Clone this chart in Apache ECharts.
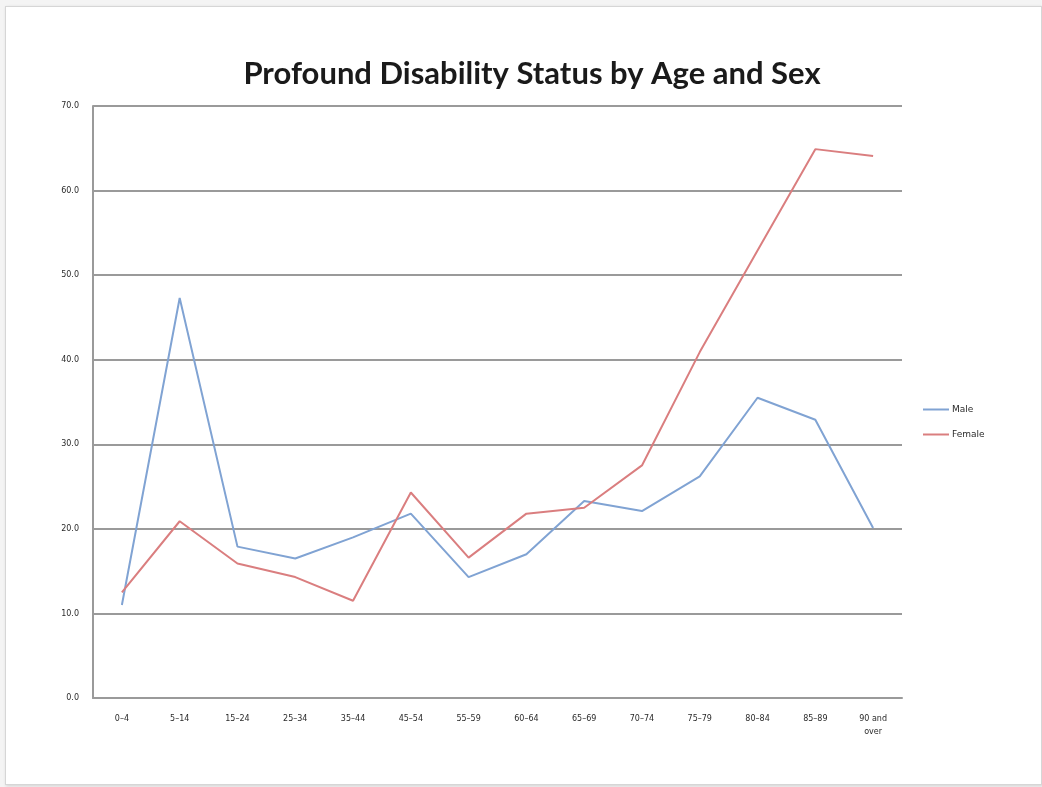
<!DOCTYPE html>
<html>
<head>
<meta charset="utf-8">
<script src="https://cdn.jsdelivr.net/npm/echarts@6/dist/echarts.min.js"></script>
<style>
  html, body { margin: 0; padding: 0; background: #f4f4f4; }
  #frame {
    position: absolute; left: 5px; top: 6px; width: 1035px; height: 777px;
    background: #ffffff; border: 1px solid #d6d6d6;
    box-shadow: 1px 1px 3px rgba(0,0,0,0.15);
  }
  #chart { position: absolute; left: 0; top: 0; width: 1042px; height: 787px; }
</style>
</head>
<body>
<div id="frame"></div>
<div id="chart"></div>
<script>
// Age groups along the x axis
const ageGroups = ['0–4', '5–14', '15–24', '25–34', '35–44', '45–54', '55–59',
  '60–64', '65–69', '70–74', '75–79', '80–84', '85–89', '90 and\nover'];

// Percentage with a profound disability, by sex
const male   = [11.0, 47.3, 17.9, 16.5, 19.0, 21.8, 14.3, 17.0, 23.3, 22.1, 26.2, 35.5, 32.9, 20.1];
const female = [12.5, 20.9, 15.9, 14.3, 11.5, 24.3, 16.6, 21.8, 22.5, 27.5, 40.9, 52.9, 64.9, 64.1];

// Value axis ticks
const yTicks = [0, 10, 20, 30, 40, 50, 60, 70];

const chart = echarts.init(document.getElementById('chart'), null, { renderer: 'canvas' });

const labelFont = { fontFamily: 'DejaVu Sans', fontSize: 8, color: '#2a2a2a' };

chart.setOption({
  backgroundColor: 'transparent',
  animation: false,
  title: {
    text: 'Profound Disability Status by Age and Sex',
    left: 527, top: 53, textAlign: 'center',
    textStyle: { fontFamily: 'Lato', fontWeight: 'bold', fontSize: 31, color: '#1a1a1a' }
  },
  legend: {
    orient: 'vertical',
    left: 918, top: 400,
    itemWidth: 26, itemHeight: 2, itemGap: 16,
    icon: 'rect',
    textStyle: Object.assign({}, labelFont, { fontSize: 9, padding: [0, 0, 0, -2] }),
    data: ['Male', 'Female']
  },
  grid: { left: 93, right: 140, top: 106, bottom: 89 },
  xAxis: {
    type: 'category',
    data: ageGroups,
    boundaryGap: true,
    axisLine: { show: true, lineStyle: { color: '#9a9a9a', width: 2 } },
    axisTick: { show: false },
    axisLabel: Object.assign({}, labelFont, { margin: 14, interval: 0, lineHeight: 13 })
  },
  yAxis: {
    type: 'value',
    min: yTicks[0], max: yTicks[yTicks.length - 1], interval: 10,
    axisLine: { show: true, lineStyle: { color: '#9a9a9a', width: 2 } },
    axisTick: { show: false },
    axisLabel: Object.assign({}, labelFont, { margin: 14, formatter: v => v.toFixed(1) }),
    splitLine: { show: true, lineStyle: { color: '#9a9a9a', width: 2 } }
  },
  series: [
    {
      name: 'Male', type: 'line', data: male,
      symbol: 'none', lineStyle: { color: '#80a3d3', width: 2 },
      itemStyle: { color: '#80a3d3' }
    },
    {
      name: 'Female', type: 'line', data: female,
      symbol: 'none', lineStyle: { color: '#da7e7f', width: 2 },
      itemStyle: { color: '#da7e7f' }
    }
  ]
});
</script>
</body>
</html>
